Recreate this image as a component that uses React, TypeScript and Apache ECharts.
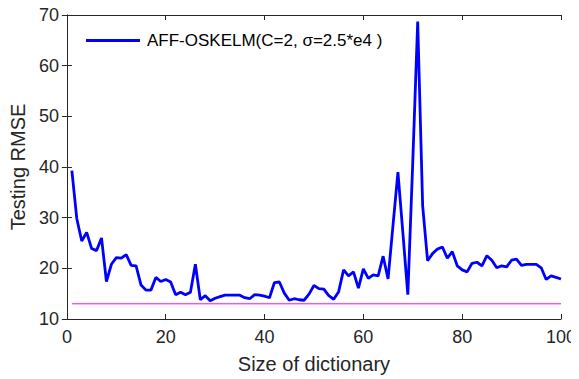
import React, { useEffect, useRef } from "react";
import * as echarts from "echarts";

const xValues: number[] = Array.from({ length: 100 }, (_, i) => i + 1);

const rmseValues: number[] = [
  39.3, 29.8, 25.4, 27.1, 23.9, 23.5, 26.0, 17.4, 20.8, 22.1,
  22.0, 22.7, 20.6, 20.5, 16.7, 15.7, 15.7, 18.2, 17.4, 17.8,
  17.3, 14.8, 15.3, 14.8, 15.3, 20.8, 13.8, 14.6, 13.6, 14.1,
  14.4, 14.7, 14.7, 14.7, 14.7, 14.2, 14.0, 14.8, 14.7, 14.5,
  14.2, 17.2, 17.3, 15.1, 13.7, 14.0, 13.8, 13.7, 14.9, 16.6,
  16.0, 15.9, 14.6, 13.9, 15.4, 19.7, 18.5, 19.3, 16.1, 19.9,
  18.0, 18.7, 18.5, 22.4, 17.9, 28.5, 39.0, 27.0, 14.8, 41.0,
  68.7, 32.4, 21.5, 22.9, 23.8, 24.2, 22.0, 23.3, 20.5, 19.7,
  19.3, 21.0, 21.2, 20.5, 22.5, 21.6, 20.1, 20.5, 20.3, 21.6,
  21.8, 20.6, 20.8, 20.8, 20.8, 20.1, 17.8, 18.5, 18.2, 17.9,
];

const baselineValue = 13.0;
const baselineX: number[] = [1, 100];

const xTicks = { min: 0, max: 100, interval: 20 };
const yTicks = { min: 10, max: 70, interval: 10 };

const seriesName = "AFF-OSKELM(C=2, σ=2.5*e4 )";

export default function App() {
  const ref = useRef<HTMLDivElement>(null);

  useEffect(() => {
    if (!ref.current) return;
    const chart = echarts.init(ref.current, undefined, { renderer: "svg" });
    const font = "Arial, 'Liberation Sans', Helvetica, sans-serif";
    const axisColor = "#262626";
    const baseX = {
      type: "value" as const,
      min: xTicks.min,
      max: xTicks.max,
      interval: xTicks.interval,
      axisLine: { show: true, lineStyle: { color: axisColor, width: 1 } },
      axisTick: { show: true, inside: true, length: 5, lineStyle: { color: axisColor } },
      splitLine: { show: false },
    };
    const baseY = {
      type: "value" as const,
      min: yTicks.min,
      max: yTicks.max,
      interval: yTicks.interval,
      axisLine: { show: true, lineStyle: { color: axisColor, width: 1 } },
      axisTick: { show: true, inside: true, length: 5, lineStyle: { color: axisColor } },
      splitLine: { show: false },
    };
    chart.setOption({
      animation: false,
      backgroundColor: "#ffffff",
      grid: { left: 65, right: 15, top: 15, bottom: 57, containLabel: false },
      legend: {
        data: [{ name: seriesName, icon: "rect" }],
        left: 81,
        top: 27,
        itemWidth: 54,
        itemHeight: 2.8,
        itemGap: 10,
        textStyle: { fontFamily: font, fontSize: 17, color: "#000000", padding: [0, 0, 0, 2] },
      },
      xAxis: [
        {
          ...baseX,
          position: "bottom",
          name: "Size of dictionary",
          nameLocation: "middle",
          nameGap: 35,
          nameTextStyle: { fontFamily: font, fontSize: 20, color: axisColor },
          axisLabel: { show: true, fontFamily: font, fontSize: 18, color: axisColor, margin: 9 },
        },
        {
          ...baseX,
          position: "top",
          axisLabel: { show: false },
        },
      ],
      yAxis: [
        {
          ...baseY,
          position: "left",
          name: "Testing RMSE",
          nameLocation: "middle",
          nameGap: 33,
          nameTextStyle: { fontFamily: font, fontSize: 20, color: axisColor },
          axisLabel: { show: true, fontFamily: font, fontSize: 18, color: axisColor, margin: 8 },
        },
        {
          ...baseY,
          position: "right",
          axisLabel: { show: false },
        },
      ],
      series: [
        {
          name: seriesName,
          type: "line",
          data: xValues.map((x, i) => [x, rmseValues[i]]),
          symbol: "none",
          lineStyle: { color: "#0000ff", width: 2.8 },
          itemStyle: { color: "#0000ff" },
          xAxisIndex: 0,
          yAxisIndex: 0,
          z: 3,
        },
        {
          name: "baseline",
          type: "line",
          data: baselineX.map((x) => [x, baselineValue]),
          symbol: "none",
          lineStyle: { color: "#ff00ff", width: 1 },
          itemStyle: { color: "#ff00ff" },
          xAxisIndex: 0,
          yAxisIndex: 0,
          z: 2,
        },
      ],
    });
    return () => chart.dispose();
  }, []);

  return <div ref={ref} style={{ width: 579, height: 379, marginLeft: -8, marginTop: -8 }} />;
}
